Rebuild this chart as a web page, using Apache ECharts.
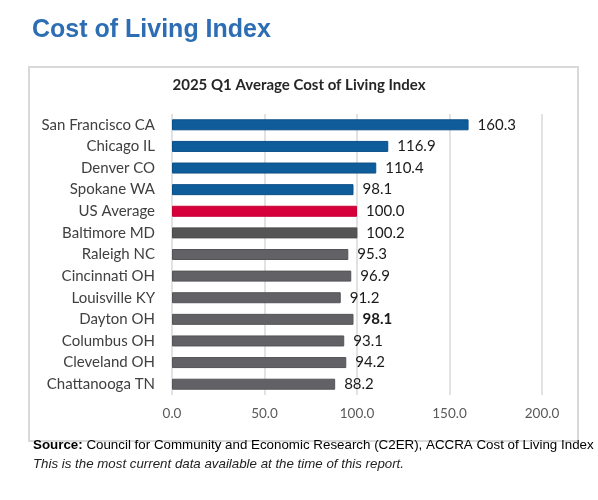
<!DOCTYPE html>
<html>
<head>
<meta charset="utf-8">
<script src="https://cdn.jsdelivr.net/npm/echarts@6/dist/echarts.min.js"></script>
<style>
html,body{margin:0;padding:0;background:#fff;}
#c{width:598px;height:500px;}
</style>
</head>
<body>
<div id="c"></div>
<script>
const categories = ["San Francisco CA","Chicago IL","Denver CO","Spokane WA","US Average","Baltimore MD","Raleigh NC","Cincinnati OH","Louisville KY","Dayton OH","Columbus OH","Cleveland OH","Chattanooga TN"];
const values = [160.3,116.9,110.4,98.1,100.0,100.2,95.3,96.9,91.2,98.1,93.1,94.2,88.2];
const groups = ["peer","peer","peer","peer","avg","dark","gray","gray","gray","bold","gray","gray","gray"];
const xTicks = [0,50,100,150,200];

const fillColors = {peer:"#0f5c9b", avg:"#d6003a", dark:"#555556", gray:"#626266", bold:"#626266"};
const edgeColors = {peer:"#0b4f87", avg:"#c50033", dark:"#4a4a4b", gray:"#545458", bold:"#545458"};

const chart = echarts.init(document.getElementById('c'), null, {renderer:'canvas'});
const data = values.map((v,i)=>({
  value: v,
  itemStyle: {color: fillColors[groups[i]], borderColor: edgeColors[groups[i]], borderWidth: 1},
  label: {fontWeight: groups[i]==="bold" ? "bold" : "normal"}
}));

chart.setOption({
  animation:false,
  backgroundColor:'#fff',
  title:[
    {text:'Cost of Living Index', left:27, top:13,
     textStyle:{fontFamily:'Liberation Sans', fontWeight:'bold', fontSize:25, color:'#2d6db4'}},
    {text:'2025 Q1 Average Cost of Living Index', left:'center', top:73,
     textStyle:{fontFamily:'Lato', fontWeight:'bold', fontSize:15, color:'#262626'}},
    {text:'{b|Source:} {n|Council for Community and Economic Research (C2ER), ACCRA Cost of Living Index}\n{i|This is the most current data available at the time of this report.}',
     left:28, top:431,
     textStyle:{fontFamily:'Liberation Sans', fontWeight:'normal', fontSize:13.35, color:'#000', lineHeight:19,
       rich:{b:{fontFamily:'Liberation Sans',fontWeight:'bold',fontSize:13.35,color:'#000'},
             n:{fontFamily:'Liberation Sans',fontWeight:'normal',fontSize:13.35,color:'#000'},
             i:{fontFamily:'Liberation Sans',fontWeight:'normal',fontStyle:'italic',fontSize:13.3,color:'#222'}}}}
  ],
  graphic:[
    {type:'rect', shape:{x:29, y:67, width:549, height:374},
     style:{fill:'none', stroke:'#d9d9d9', lineWidth:2}, silent:true, z:-1}
  ],
  grid:{left:172, right:56, top:114, bottom:105, containLabel:false},
  xAxis:{
    type:'value', min:xTicks[0], max:xTicks[xTicks.length-1], interval:50,
    axisLine:{show:false}, axisTick:{show:false},
    splitLine:{lineStyle:{color:'#d9d9d9', width:1.5}},
    axisLabel:{formatter:v=>v.toFixed(1), color:'#595959', fontFamily:'Lato', fontSize:13.5, margin:12}
  },
  yAxis:{
    type:'category', data:categories, inverse:true,
    axisLine:{show:false}, axisTick:{show:false},
    axisLabel:{color:'#404040', fontFamily:'Lato', fontSize:15, margin:17}
  },
  series:[{
    type:'bar', data:data, barWidth:11,
    label:{show:true, position:'right', distance:9, formatter:p=>p.value.toFixed(1),
      color:'#1a1a1a', fontFamily:'Lato', fontSize:15}
  }]
});
</script>
</body>
</html>
